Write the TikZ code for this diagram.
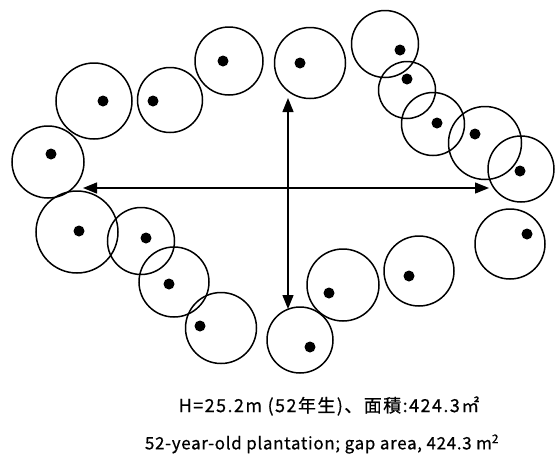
\documentclass[tikz,border=0pt]{standalone}
\usepackage{fontspec}
\setmainfont{Noto Sans CJK JP}
\newfontfamily\titlefont[LetterSpace=8,FakeBold=0.6]{Noto Sans CJK JP}
\newfontfamily\capfont[LetterSpace=4,FakeBold=0.6]{Noto Sans CJK JP}
\usetikzlibrary{arrows.meta}
\begin{document}
\begin{tikzpicture}[x=1pt,y=-1pt,line width=1.5pt]
\useasboundingbox(0,0)rectangle(555,456);
\foreach \cx/\cy/\r/\dx/\dy in {94/101/38/103/101,170/100/32.5/153/101,229/61/34/223/61,
310/63/35.5/300/63,385/44/33.5/400/50,407/90/28.5/407/79,433/124/31.5/437/123,
485/143/36.5/475/134,521/169/33/520/171,48/162/36/51/154,77/232/41/79/231,
141/241/33.5/146/238,174/282/35/169/284,221/328/35.5/200/326,300/340/33/310/347,
343/285/36/329/293,419/271/35/409/276,510/244/35/527/234}{
\draw(\cx,\cy)circle(\r pt);
\fill(\dx,\dy)circle(5.5pt);
}
\coordinate(west)at(83,188);
\coordinate(east)at(489,188);
\coordinate(north)at(288,98);
\coordinate(south)at(288,309);
\draw[line width=1.3pt,{Triangle[length=14pt,width=11pt]}-{Triangle[length=14pt,width=11pt]}](west)--(east);
\draw[line width=1.3pt,{Triangle[length=14pt,width=11pt]}-{Triangle[length=14pt,width=11pt]}](north)--(south);
\node[font=\titlefont\fontsize{18}{20}\selectfont](title)at(329,406){H=25.2m (52年生)、面積:424.3㎡};
\node[font=\capfont\fontsize{17}{20}\selectfont](caption)at(322,444){52-year-old plantation; gap area, 424.3 m\textsuperscript{2}};
\end{tikzpicture}
\end{document}
